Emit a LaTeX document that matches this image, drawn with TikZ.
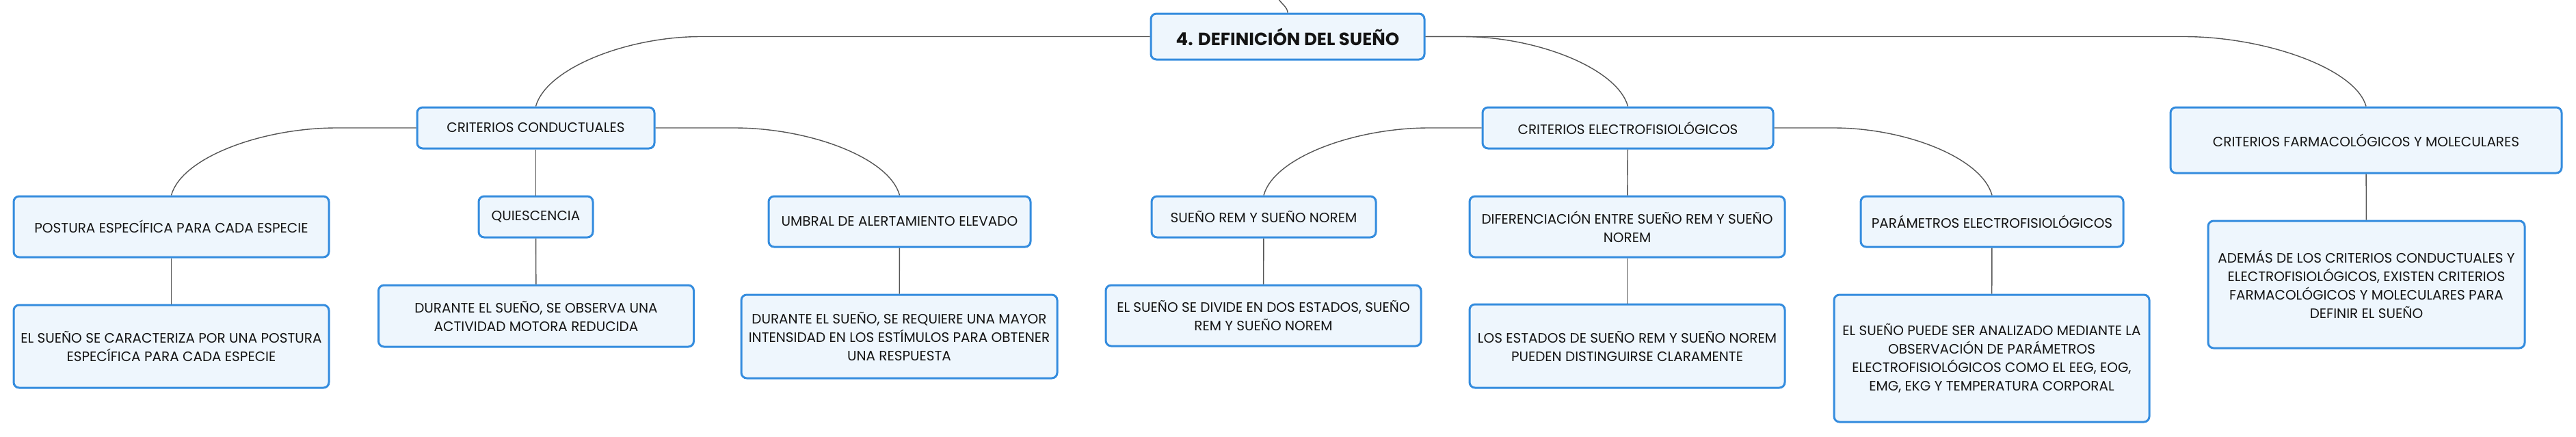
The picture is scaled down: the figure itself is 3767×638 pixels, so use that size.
\documentclass[tikz,border=0pt]{standalone}
\usepackage{fontspec}
\setmainfont{Poppins}
\usetikzlibrary{calc}
\definecolor{cardline}{RGB}{52,140,222}
\definecolor{cardfill}{RGB}{238,246,253}
\definecolor{linkgray}{RGB}{85,85,85}
\begin{document}
\begin{tikzpicture}[x=1pt,y=-1pt,
  card/.style={draw=cardline,fill=cardfill,line width=3pt,rounded corners=8pt,
    align=center,inner sep=0pt,text=black!92,font=\fontsize{20}{27}\selectfont},
  link/.style={draw=linkgray,line width=1.4pt}]
\useasboundingbox (0,0) rectangle (3767,638);
\node[card,font=\fontsize{26}{30}\selectfont\bfseries,minimum width=400pt,minimum height=67pt] (root) at (1883,53.5) {4. DEFINICIÓN DEL SUEÑO};
\node[card,minimum width=347pt,minimum height=60pt] (cc) at (783.5,187) {CRITERIOS CONDUCTUALES};
\node[card,minimum width=425pt,minimum height=60pt] (ce) at (2380.5,187) {CRITERIOS ELECTROFISIOLÓGICOS};
\node[card,minimum width=572pt,minimum height=96pt] (cf) at (3460,205) {CRITERIOS FARMACOLÓGICOS Y MOLECULARES};
\node[card,minimum width=461pt,minimum height=89pt] (postura) at (250.5,331.5) {POSTURA ESPECÍFICA PARA CADA ESPECIE};
\node[card,minimum width=167pt,minimum height=60pt] (quies) at (783.5,317) {QUIESCENCIA};
\node[card,minimum width=383pt,minimum height=74pt] (umbral) at (1315.5,324) {UMBRAL DE ALERTAMIENTO ELEVADO};
\node[card,minimum width=328pt,minimum height=60pt] (rem) at (1848,317) {SUEÑO REM Y SUEÑO NOREM};
\node[card,minimum width=461pt,minimum height=89pt] (dif) at (2379.5,331.5) {DIFERENCIACIÓN ENTRE SUEÑO REM Y SUEÑO\\NOREM};
\node[card,minimum width=384pt,minimum height=74pt] (param) at (2913,324) {PARÁMETROS ELECTROFISIOLÓGICOS};
\node[card,minimum width=461pt,minimum height=121pt] (caract) at (250.5,506.5) {EL SUEÑO SE CARACTERIZA POR UNA POSTURA\\ESPECÍFICA PARA CADA ESPECIE};
\node[card,minimum width=461pt,minimum height=90pt] (motora) at (784,462) {DURANTE EL SUEÑO, SE OBSERVA UNA\\ACTIVIDAD MOTORA REDUCIDA};
\node[card,minimum width=462pt,minimum height=122pt] (requiere) at (1315,492) {DURANTE EL SUEÑO, SE REQUIERE UNA MAYOR\\INTENSIDAD EN LOS ESTÍMULOS PARA OBTENER\\UNA RESPUESTA};
\node[card,minimum width=461pt,minimum height=89pt] (divide) at (1847.5,461.5) {EL SUEÑO SE DIVIDE EN DOS ESTADOS, SUEÑO\\REM Y SUEÑO NOREM};
\node[card,minimum width=461pt,minimum height=122pt] (estados) at (2379.5,506) {LOS ESTADOS DE SUEÑO REM Y SUEÑO NOREM\\PUEDEN DISTINGUIRSE CLARAMENTE};
\node[card,minimum width=461pt,minimum height=186pt] (analiz) at (2912.5,524) {EL SUEÑO PUEDE SER ANALIZADO MEDIANTE LA\\OBSERVACIÓN DE PARÁMETROS\\ELECTROFISIOLÓGICOS COMO EL EEG, EOG,\\EMG, EKG Y TEMPERATURA CORPORAL};
\node[card,minimum width=463pt,minimum height=186pt] (ademas) at (3460.5,416) {ADEMÁS DE LOS CRITERIOS CONDUCTUALES Y\\ELECTROFISIOLÓGICOS, EXISTEN CRITERIOS\\FARMACOLÓGICOS Y MOLECULARES PARA\\DEFINIR EL SUEÑO};
\coordinate (up) at (1868,-4);
\draw[link] (root.north) .. controls +(0,-8) and +(4,8) .. (up);
\draw[link] (root.west) -- ($(cc.north |- root.west)+(242,0)$) .. controls +(-110,0) and +(15,-55) .. (cc.north);
\draw[link] (root.east) -- ($(ce.north |- root.east)+(-242,0)$) .. controls +(110,0) and +(-15,-55) .. (ce.north);
\draw[link] (root.east) -- ($(cf.north |- root.east)+(-267,0)$) .. controls +(120,0) and +(-15,-55) .. (cf.north);
\draw[link] (cc.west) -- ($(postura.north |- cc.west)+(242,0)$) .. controls +(-110,0) and +(15,-55) .. (postura.north);
\draw[link] (cc.east) -- ($(umbral.north |- cc.east)+(-242,0)$) .. controls +(110,0) and +(-15,-55) .. (umbral.north);
\draw[link] (ce.west) -- ($(rem.north |- ce.west)+(242,0)$) .. controls +(-110,0) and +(15,-55) .. (rem.north);
\draw[link] (ce.east) -- ($(param.north |- ce.east)+(-232,0)$) .. controls +(105,0) and +(-15,-55) .. (param.north);
\draw[link] (cc) -- (quies);
\draw[link] (ce) -- (dif);
\draw[link] (cf) -- (ademas);
\draw[link] (postura) -- (caract);
\draw[link] (quies) -- (motora);
\draw[link] (umbral) -- (requiere);
\draw[link] (rem) -- (divide);
\draw[link] (dif) -- (estados);
\draw[link] (param) -- (analiz);
\end{tikzpicture}
\end{document}
